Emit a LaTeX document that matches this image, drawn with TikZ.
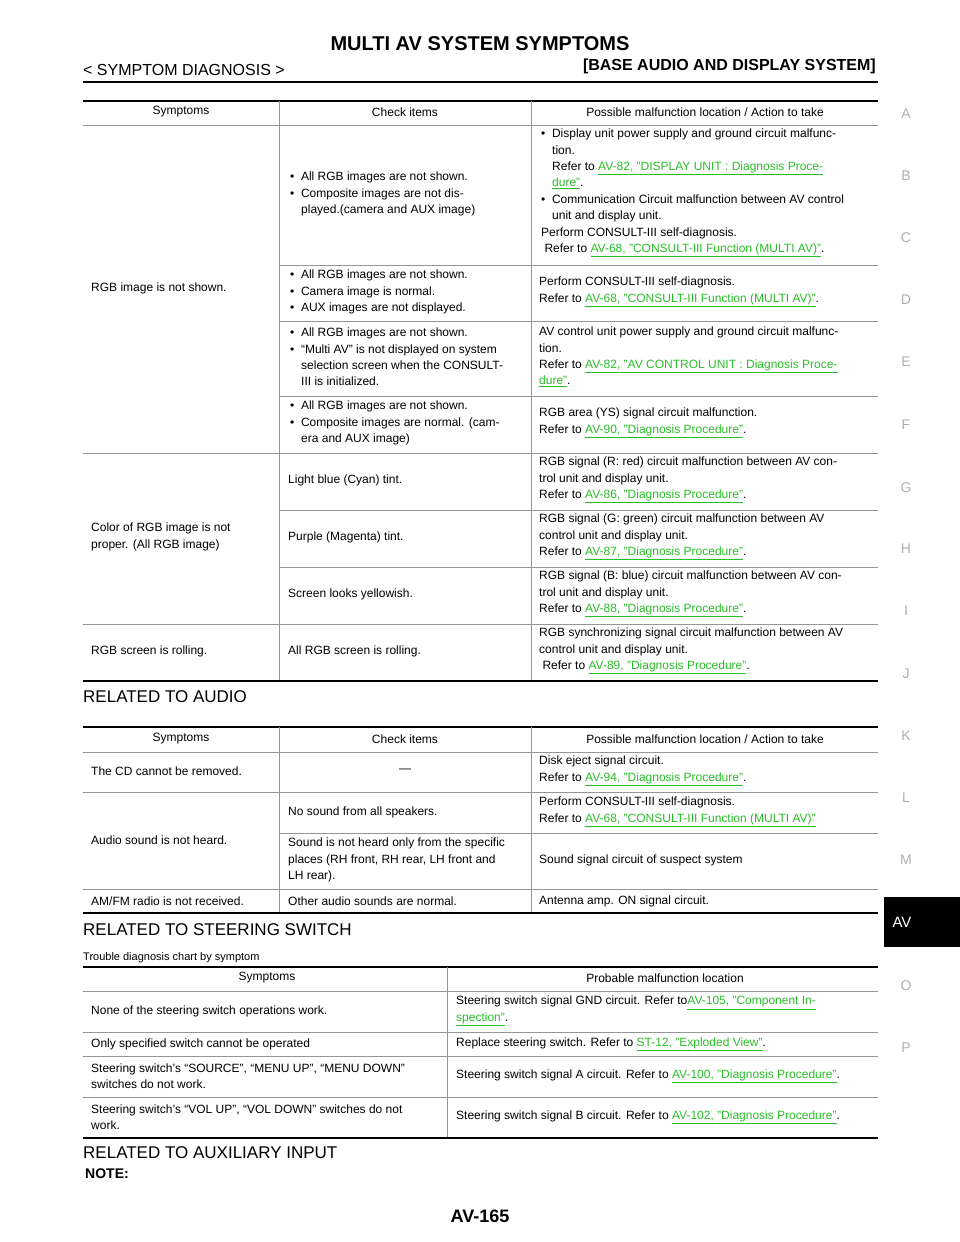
\documentclass[tikz,border=0pt]{standalone}
\usepackage{fontspec}
\setmainfont{Liberation Sans}
\usetikzlibrary{positioning}
\definecolor{linkgreen}{RGB}{40,190,40}
\definecolor{rulegray}{RGB}{150,150,150}
\definecolor{tabgray}{RGB}{175,175,175}
\newcommand{\lnk}[1]{\textcolor{linkgreen}{\underline{#1}}}
\newcommand{\ind}{\hspace*{11pt}}
\newcommand{\bl}{\textbullet\ \ }
\tikzset{
  txt/.style={anchor=west,inner sep=0,align=left,font=\fontsize{12}{16.4}\selectfont},
  head/.style={anchor=center,inner sep=0,font=\fontsize{12}{16.4}\selectfont},
  sect/.style={anchor=west,inner sep=0,font=\fontsize{17}{20}\selectfont},
  thick rule/.style={line width=1.6pt},
  thin rule/.style={line width=0.6pt,draw=rulegray},
  tab letter/.style={inner sep=0,text=tabgray,font=\fontsize{14}{14}\selectfont}
}
\begin{document}
\begin{tikzpicture}[x=1pt,y=-1pt]
\useasboundingbox (0,0) rectangle (960,1242);
% page head
\node [inner sep=0,font=\bfseries\fontsize{20}{20}\selectfont] (title) at (480,44) {MULTI AV SYSTEM SYMPTOMS};
\node [anchor=west,inner sep=0,font=\fontsize{16}{16}\selectfont] (sub) at (83,70) {< SYMPTOM DIAGNOSIS >};
\node [anchor=east,inner sep=0,font=\bfseries\fontsize{16}{16}\selectfont] (sys) at (876,66) {[BASE AUDIO AND DISPLAY SYSTEM]};
\draw [line width=2pt] (83,82) -- (878,82);
% side tabs
\foreach \l/\y in {A/114,B/176,C/238,D/300,E/362,F/425,G/488,H/549,I/611,J/674,K/736,L/798,M/860,O/986,P/1048}
  \node [tab letter] (tab\l) at (906,\y) {\l};
\fill (884,897) rectangle (960,947);
\node [inner sep=0,text=white,font=\fontsize{15}{15}\selectfont] (tabAV) at (902,922) {AV};

% ---- table 1
\draw [thick rule] (83,101) -- (878,101);
\draw [thin rule] (83,125) -- (878,125);
\foreach \y in {265,321,396,510,567} \draw [thin rule] (279,\y) -- (878,\y);
\foreach \y in {453,624} \draw [thin rule] (83,\y) -- (878,\y);
\draw [thin rule] (279,101) -- (279,681) (531,101) -- (531,681);
\draw [thick rule] (83,681) -- (878,681);
\node [head] (h1a) at (181,112) {Symptoms};
\node [head] (h1b) at (405,112) {Check items};
\node [head] (h1c) at (705,112) {Possible malfunction location / Action to take};
\node [txt] (s1) at (91,288) {RGB image is not shown.};
\node [txt] (s2) at (91,537) {Color of RGB image is not\\proper. (All RGB image)};
\node [txt] (s3) at (91,651) {RGB screen is rolling.};
\node [txt] (c1) at (290,194) {\bl All RGB images are not shown.\\\bl Composite images are not dis-\\\ind played.(camera and AUX image)};
\node [txt] (c2) at (290,292) {\bl All RGB images are not shown.\\\bl Camera image is normal.\\\bl AUX images are not displayed.};
\node [txt] (c3) at (290,357) {\bl All RGB images are not shown.\\\bl ``Multi AV'' is not displayed on system\\\ind selection screen when the CONSULT-\\\ind III is initialized.};
\node [txt] (c4) at (290,423) {\bl All RGB images are not shown.\\\bl Composite images are normal. (cam-\\\ind era and AUX image)};
\node [txt] (c5) at (288,480) {Light blue (Cyan) tint.};
\node [txt] (c6) at (288,537) {Purple (Magenta) tint.};
\node [txt] (c7) at (288,594) {Screen looks yellowish.};
\node [txt] (c8) at (288,651) {All RGB screen is rolling.};
\node [txt] (a1) at (541,193) {\bl Display unit power supply and ground circuit malfunc-\\\ind tion.\\\ind Refer to \lnk{AV-82, "DISPLAY UNIT : Diagnosis Proce-}\\\ind \lnk{dure"}.\\\bl Communication Circuit malfunction between AV control\\\ind unit and display unit.\\Perform CONSULT-III self-diagnosis.\\\ Refer to \lnk{AV-68, "CONSULT-III Function (MULTI AV)"}.};
\node [txt] (a2) at (539,292) {Perform CONSULT-III self-diagnosis.\\Refer to \lnk{AV-68, "CONSULT-III Function (MULTI AV)"}.};
\node [txt] (a3) at (539,357) {AV control unit power supply and ground circuit malfunc-\\tion.\\Refer to \lnk{AV-82, "AV CONTROL UNIT : Diagnosis Proce-}\\\lnk{dure"}.};
\node [txt] (a4) at (539,423) {RGB area (YS) signal circuit malfunction.\\Refer to \lnk{AV-90, "Diagnosis Procedure"}.};
\node [txt] (a5) at (539,480) {RGB signal (R: red) circuit malfunction between AV con-\\trol unit and display unit.\\Refer to \lnk{AV-86, "Diagnosis Procedure"}.};
\node [txt] (a6) at (539,537) {RGB signal (G: green) circuit malfunction between AV\\control unit and display unit.\\Refer to \lnk{AV-87, "Diagnosis Procedure"}.};
\node [txt] (a7) at (539,594) {RGB signal (B: blue) circuit malfunction between AV con-\\trol unit and display unit.\\Refer to \lnk{AV-88, "Diagnosis Procedure"}.};
\node [txt] (a8) at (539,651) {RGB synchronizing signal circuit malfunction between AV\\control unit and display unit.\\\ Refer to \lnk{AV-89, "Diagnosis Procedure"}.};

% ---- table 2
\node [sect] (audio) at (83,697) {RELATED TO AUDIO};
\draw [thick rule] (83,727) -- (878,727);
\foreach \y in {752,792,889} \draw [thin rule] (83,\y) -- (878,\y);
\draw [thin rule] (279,833) -- (878,833);
\draw [thin rule] (279,727) -- (279,913) (531,727) -- (531,913);
\draw [thick rule] (83,913) -- (878,913);
\node [head] (h2a) at (181,739) {Symptoms};
\node [head] (h2b) at (405,739) {Check items};
\node [head] (h2c) at (705,739) {Possible malfunction location / Action to take};
\node [txt] (s4) at (91,771) {The CD cannot be removed.};
\node [head] (c9) at (405,771) {---};
\node [txt] (a9) at (539,771) {Disk eject signal circuit.\\Refer to \lnk{AV-94, "Diagnosis Procedure"}.};
\node [txt] (s5) at (91,840) {Audio sound is not heard.};
\node [txt] (c10) at (288,812) {No sound from all speakers.};
\node [txt] (a10) at (539,812) {Perform CONSULT-III self-diagnosis.\\Refer to \lnk{AV-68, "CONSULT-III Function (MULTI AV)"}};
\node [txt] (c11) at (288,860) {Sound is not heard only from the specific\\places (RH front, RH rear, LH front and\\LH rear).};
\node [txt] (a11) at (539,860) {Sound signal circuit of suspect system};
\node [txt] (s6) at (91,901) {AM/FM radio is not received.};
\node [txt] (c12) at (288,901) {Other audio sounds are normal.};
\node [txt] (a12) at (539,901) {Antenna amp. ON signal circuit.};

% ---- table 3
\node [sect] (steer) at (83,930) {RELATED TO STEERING SWITCH};
\node [anchor=west,inner sep=0,font=\fontsize{11}{11}\selectfont] (chart) at (83,958) {Trouble diagnosis chart by symptom};
\draw [thick rule] (83,967) -- (878,967);
\foreach \y in {991,1032,1056,1097} \draw [thin rule] (83,\y) -- (878,\y);
\draw [thin rule] (447,967) -- (447,1138);
\draw [thick rule] (83,1138) -- (878,1138);
\node [head] (h3a) at (267,978) {Symptoms};
\node [head] (h3b) at (665,978) {Probable malfunction location};
\node [txt] (s7) at (91,1011) {None of the steering switch operations work.};
\node [txt] (a13) at (456,1011) {Steering switch signal GND circuit. Refer to\lnk{AV-105, "Component In-}\\\lnk{spection"}.};
\node [txt] (s8) at (91,1044) {Only specified switch cannot be operated};
\node [txt] (a14) at (456,1044) {Replace steering switch. Refer to \lnk{ST-12, "Exploded View"}.};
\node [txt] (s9) at (91,1076) {Steering switch's ``SOURCE'', ``MENU UP'', ``MENU DOWN''\\switches do not work.};
\node [txt] (a15) at (456,1076) {Steering switch signal A circuit. Refer to \lnk{AV-100, "Diagnosis Procedure"}.};
\node [txt] (s10) at (91,1117) {Steering switch's ``VOL UP'', ``VOL DOWN'' switches do not\\work.};
\node [txt] (a16) at (456,1117) {Steering switch signal B circuit. Refer to \lnk{AV-102, "Diagnosis Procedure"}.};

% page foot
\node [sect] (aux) at (83,1153) {RELATED TO AUXILIARY INPUT};
\node [anchor=west,inner sep=0,font=\bfseries\fontsize{14}{14}\selectfont] (note) at (85,1174) {NOTE:};
\node [inner sep=0,font=\bfseries\fontsize{18}{18}\selectfont] (page) at (480,1216) {AV-165};
\end{tikzpicture}
\end{document}
